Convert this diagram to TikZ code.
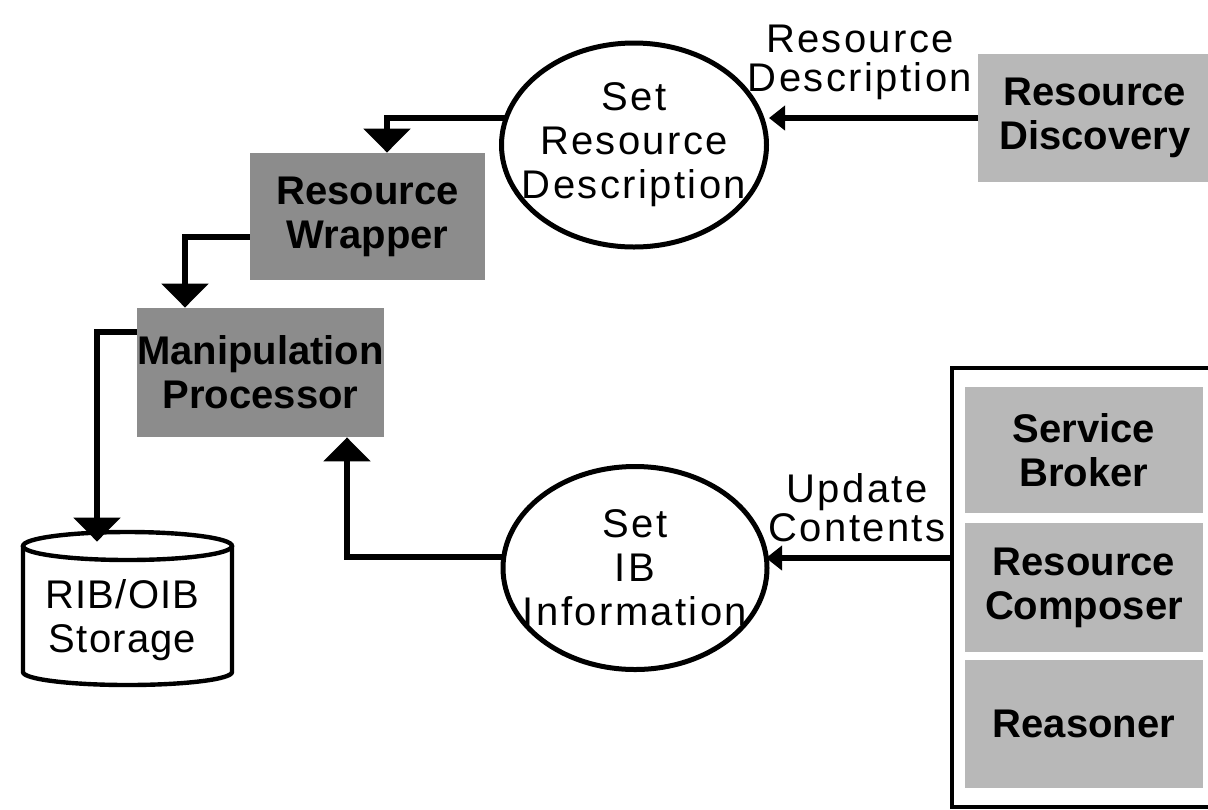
\documentclass[tikz,border=0pt]{standalone}
\usepackage{fontspec}
\setmainfont{Liberation Sans}
\usetikzlibrary{shapes.geometric,arrows.meta,calc}
\definecolor{dkfill}{gray}{0.55}
\definecolor{ltfill}{gray}{0.72}
\begin{document}
\begin{tikzpicture}[x=0.5pt,y=-0.5pt,
  txt/.style={font=\fontsize{20pt}{22pt}\selectfont\addfontfeature{LetterSpace=6}, align=center},
  lbl/.style={font=\fontsize{20pt}{19.5pt}\selectfont\addfontfeature{LetterSpace=6}, align=center, inner sep=0pt},
  proc/.style={ellipse, draw, line width=2.5pt, inner ysep=0pt, inner xsep=-20pt, txt},
  dkbox/.style={rectangle, fill=dkfill, inner sep=0pt, align=center, font=\fontsize{20pt}{22pt}\selectfont\bfseries},
  ltbox/.style={rectangle, fill=ltfill, inner sep=0pt, align=center, font=\fontsize{20pt}{22pt}\selectfont\bfseries},
  conn/.style={line width=3pt},
  bigtip/.style={-{Triangle[length=12pt,width=23pt]}},
  smalltip/.style={-{Triangle[length=8pt,width=12pt]}},
  cyl/.style={line width=2.2pt}
]
\useasboundingbox (0,0) rectangle (1208,809);

% processes
\node[proc, minimum width=132.5pt, minimum height=102pt] (e1) at (634,145) {Set\\Resource\\Description};
\node[proc, minimum width=132pt, minimum height=101.5pt] (e2) at (635,568) {Set\\IB\\Information};

% boxes
\node[ltbox, minimum width=117pt, minimum height=64pt] (rd) at (1095,118) {Resource\\Discovery};
\node[dkbox, minimum width=117.5pt, minimum height=63.5pt] (rw) at (367.5,216.5) {Resource\\Wrapper};
\node[dkbox, minimum width=117.5pt, minimum height=64.5pt] (mp) at (260.5,372.5) {Manipulation\\Processor};

% container
\node[draw, line width=2pt, minimum width=134pt, minimum height=219.5pt] (cont) at (1086,587.5) {};
\node[ltbox, minimum width=119pt, minimum height=63pt] (sb) at (1084,450) {Service\\Broker};
\node[ltbox, minimum width=119pt, minimum height=64.5pt] (rc) at (1084,587.5) {Resource\\Composer};
\node[ltbox, minimum width=119pt, minimum height=64pt] (rs) at (1084,724) {Reasoner};

% storage cylinder
\node[minimum width=104.5pt, minimum height=76.5pt, inner sep=0pt] (st) at (127.5,608.5) {};
\draw[cyl] (23,546) -- (23,672) arc[start angle=180, end angle=360, x radius=52.25pt, y radius=6.5pt] -- (232,546);
\draw[cyl] (127.5,546) ellipse [x radius=52.25pt, y radius=7pt];
\node[font=\fontsize{20pt}{22pt}\selectfont\addfontfeature{LetterSpace=3}, align=center, inner sep=0pt] (stt) at (122.5,620) {RIB/OIB\\Storage};

% flow labels
\node[lbl] (l1) at (860,62) {Resource\\Description};
\node[lbl] (l2) at (857,508) {Update\\Contents};

% connectors
\draw[conn, smalltip] (rd.west) -- (rd.west -| e1.east);
\draw[conn, bigtip] ($(e1.center)+(-128,-27)$) -| ([xshift=9.75pt]rw.north);
\draw[conn, bigtip] ([yshift=-10.25pt]rw.west) -| ([xshift=-37.75pt]mp.north);
\draw[conn, bigtip] ([yshift=20.25pt]mp.west) -| ([xshift=-15.25pt,yshift=-5pt]st.north);
\draw[conn, bigtip] ($(e2.center)+(-131,-11)$) -| ([xshift=43.25pt]mp.south);
\draw[conn, smalltip] ([yshift=14.75pt]cont.west) -- ($(e2.center)+(131,-10)$);
\end{tikzpicture}
\end{document}
